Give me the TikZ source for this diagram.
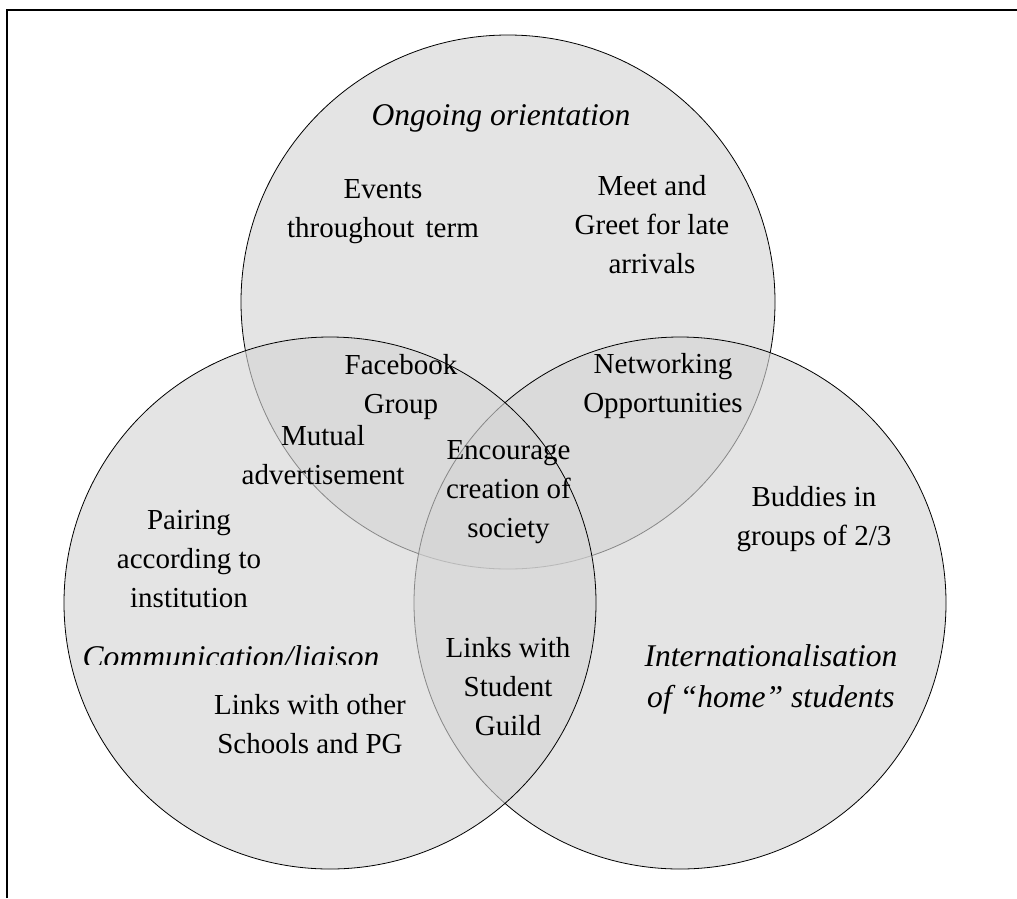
\documentclass[tikz,border=0pt]{standalone}
\usepackage{fontspec}
\setmainfont{Liberation Serif}
\definecolor{vfill}{gray}{0.83}
\begin{document}
\begin{tikzpicture}[x=1pt,y=-1pt,
  circ/.style={draw=black, line width=0.8pt, fill=vfill, fill opacity=0.64},
  lab/.style={inner sep=0pt, anchor=base, align=center, font=\fontsize{29}{38.8}\selectfont},
  head/.style={inner sep=0pt, anchor=base, align=center, font=\fontsize{31.6}{40.3}\selectfont\itshape}]
\useasboundingbox (0,0) rectangle (1017,898);
\draw[line width=2pt] (7,898) -- (7,10) -- (1017,10);
% circles: top, right, left (draw order matters for the greyed outlines)
\draw[circ] (508,302) circle[radius=267pt];
\draw[circ] (680,603) circle[radius=266pt];
\draw[circ] (330,603) circle[radius=266pt];
% labels (anchor base = baseline of the last line)
\node[head] (ongoing) at (501,125) {Ongoing orientation};
\node[lab] (events) at (383,237) {Events\\throughout\hspace{4pt} term};
\node[lab] (meet) at (652,273) {Meet and\\Greet for late\\arrivals};
\node[lab] (facebook) at (401,413) {Facebook\\Group};
\node[lab] (network) at (663,412) {Networking\\Opportunities};
\node[lab] (mutual) at (323,484) {Mutual\\advertisement};
\node[lab] (encourage) at (508.5,537) {Encourage\\creation of\\society};
\node[lab] (buddies) at (814,545) {Buddies in\\groups of 2/3};
\node[lab] (pairing) at (189,607) {Pairing\\according to\\institution};
\node[lab] (guild) at (508,735) {Links with\\Student\\Guild};
\node[head] (intl) at (771,707) {Internationalisation\\of “home” students};
\begin{scope}
  \clip (60,600) rectangle (420,664.5);
  \node[head] (comm) at (231,667.5) {Communication/liaison};
\end{scope}
\node[lab] (other) at (310,753) {Links with other\\Schools and PG};
\end{tikzpicture}
\end{document}
